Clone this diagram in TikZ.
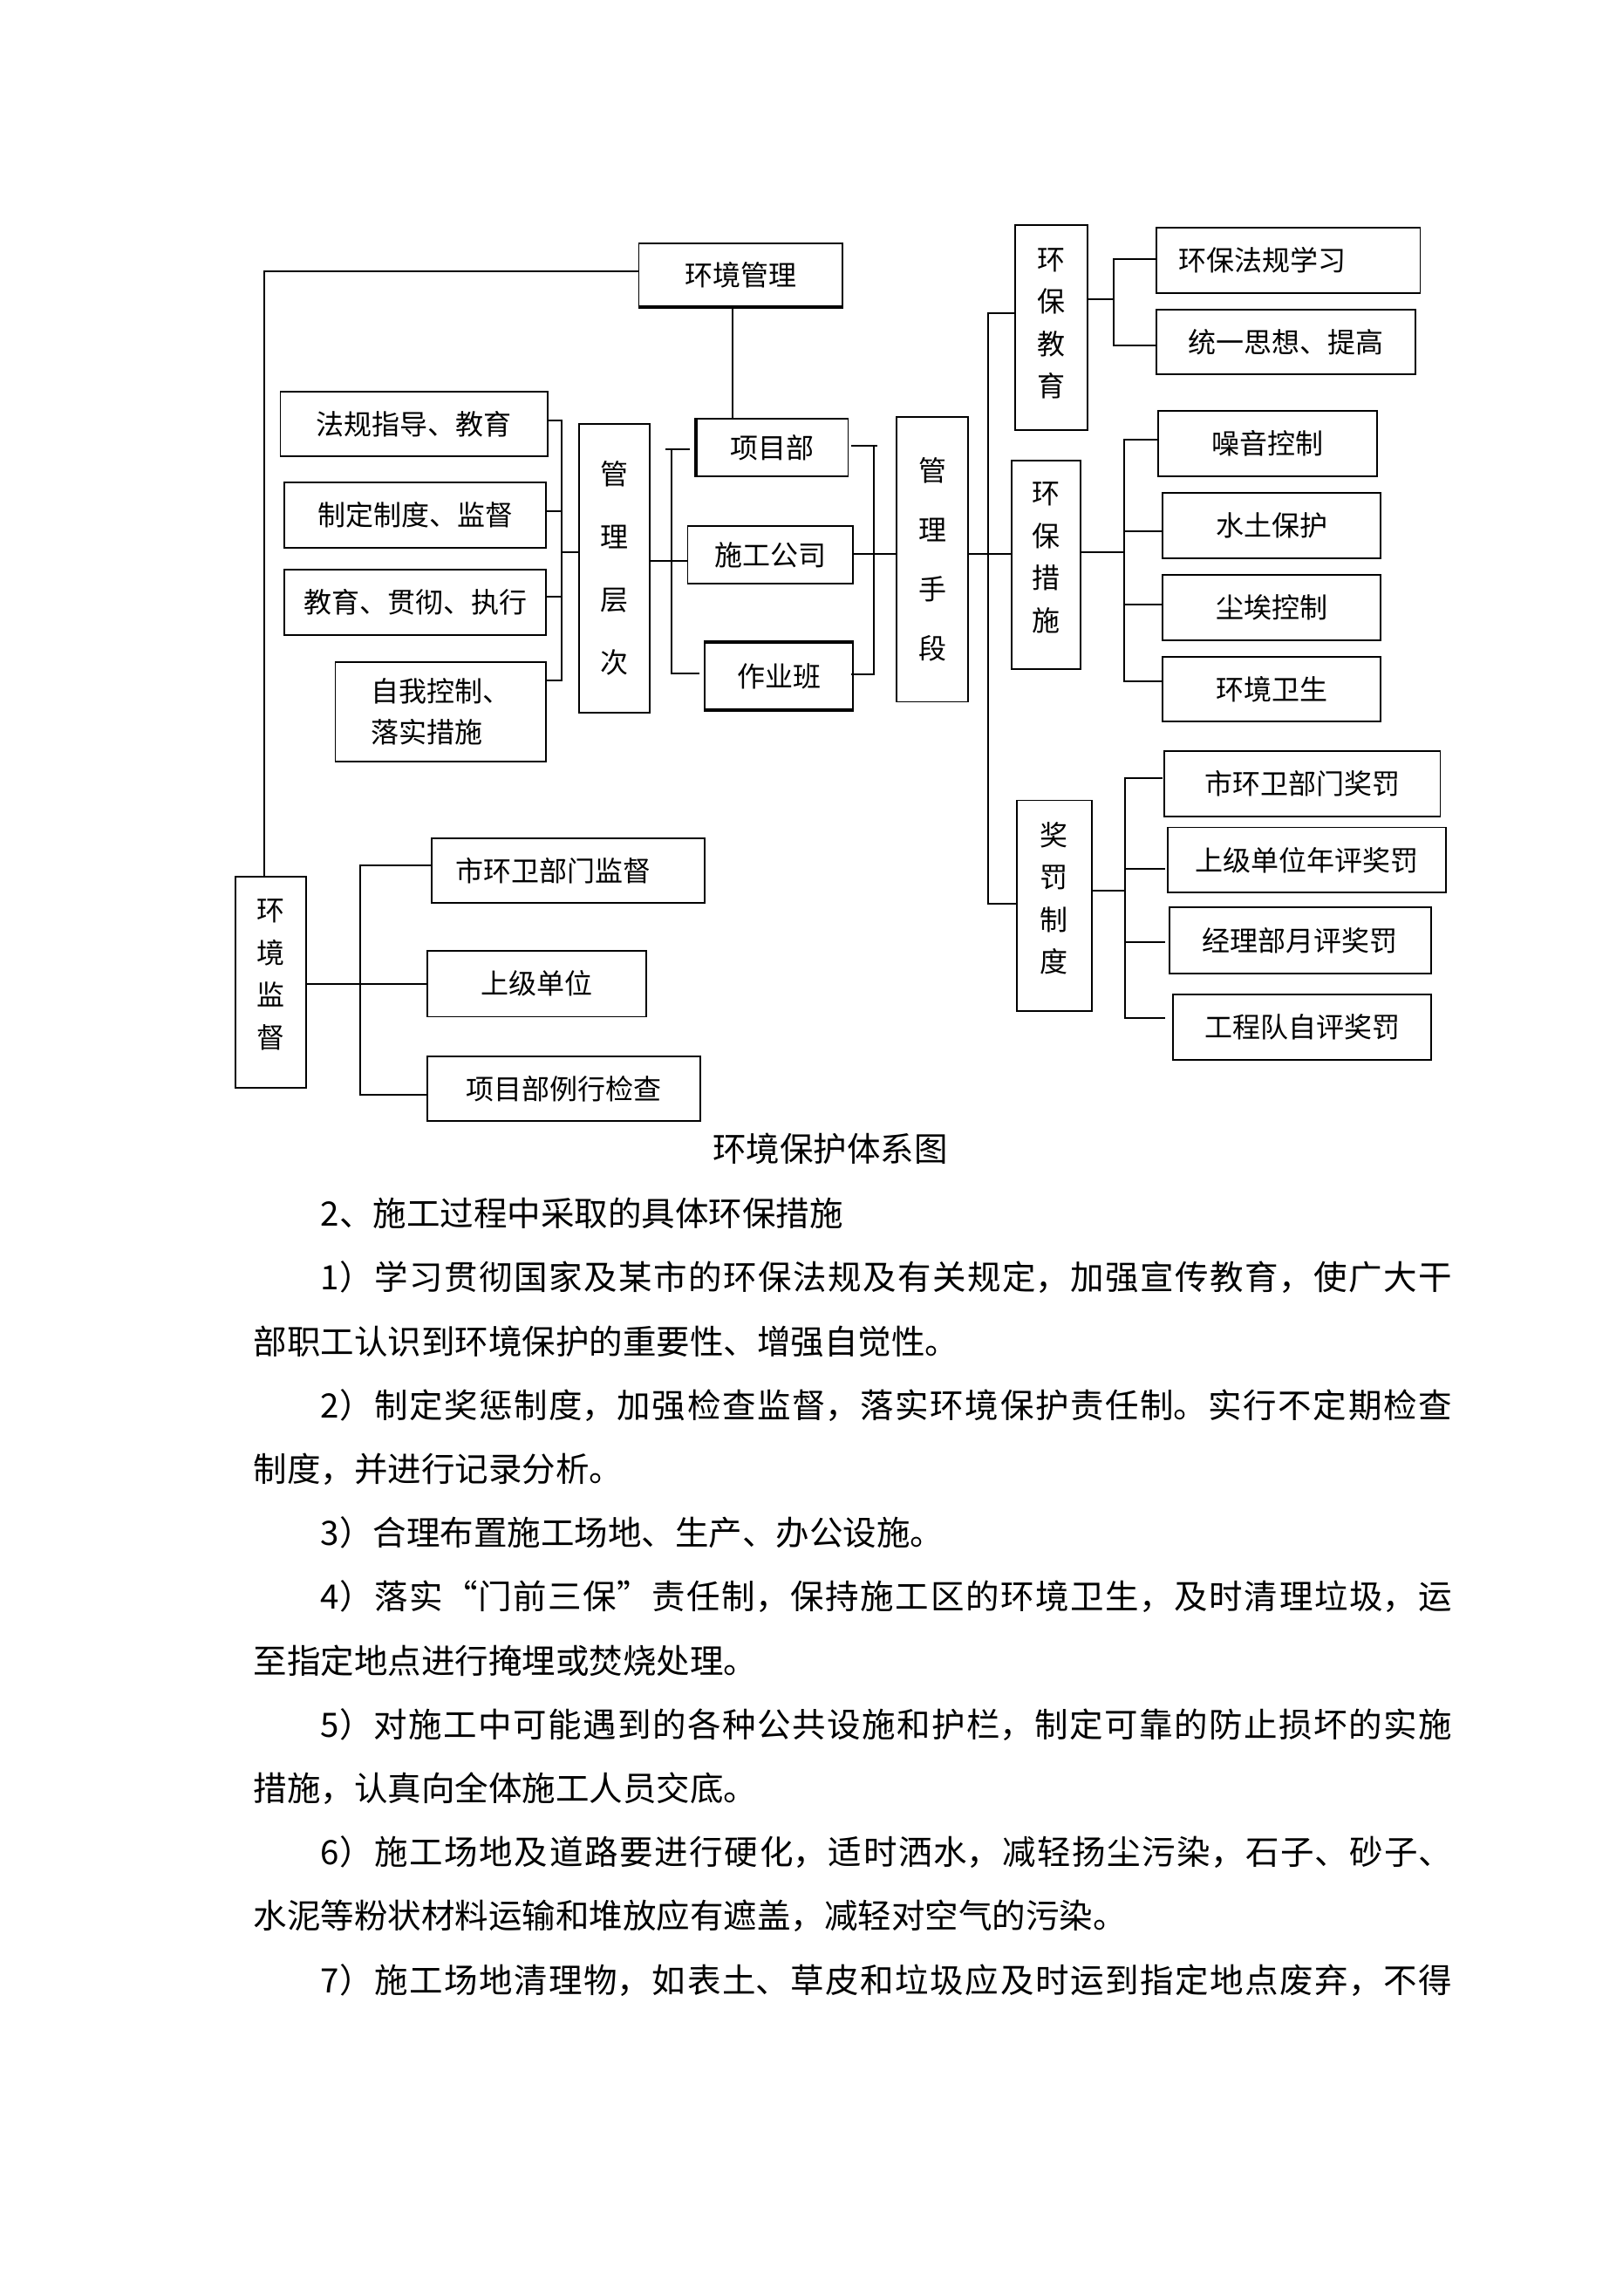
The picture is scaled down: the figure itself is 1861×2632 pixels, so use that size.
\documentclass[tikz,border=0pt]{standalone}
\usepackage{fontspec}
\setmainfont{Noto Sans CJK SC}
\XeTeXlinebreaklocale "zh"
\XeTeXlinebreakskip=0pt plus 1pt
\newcommand\lblfont{\fontsize{9.6pt}{14.1pt}\selectfont}
\newcommand\vfontA{\fontsize{9.6pt}{21.66pt}\selectfont}
\newcommand\vfontB{\fontsize{9.6pt}{20.46pt}\selectfont}
\newcommand\vfontC{\fontsize{9.6pt}{14.55pt}\selectfont}
\newcommand\bodyfont{\fontsize{11.55pt}{21.96pt}\selectfont}
\tikzset{
  box/.style={draw, line width=0.55pt, inner sep=0pt, font=\lblfont, align=center},
  conn/.style={line width=0.6pt},
  heavyedge/.style={line width=1.3pt},
  bodyline/.style={anchor=base west, inner sep=0pt, text width=412.2pt, align=justify, font=\bodyfont},
}
\newcommand\bx[7][]{\node[box,minimum width={(#5-#3)*0.3pt},minimum height={(#6-#4)*0.3pt},#1] (#2) at ({(#3+#5)/2},{(#4+#6)/2}) {#7};}
\newcommand\bl[3]{\node[bodyline] (#1) at (290,#2) {#3};}
\newcommand\fullend{\parfillskip=0pt\par}
\begin{document}
\begin{tikzpicture}[x=0.3pt,y=-0.3pt]
\useasboundingbox (0,0) rectangle (1861,2632);
% ---- boxes ----
\bx{env}{732.5}{279.4}{966}{351}{环境管理}
\bx{xmb}{798.7}{480.3}{972.5}{546}{项目部}
\bx{sggs}{788.5}{602.8}{978.2}{669.4}{施工公司}
\bx{zyb}{808}{736.7}{978.2}{813}{作业班}
\bx[font=\vfontA]{glcc}{663.8}{486}{745.3}{816.8}{管\\理\\层\\次}
\bx{l1}{321.5}{448.6}{628.3}{523.2}{法规指导、教育}
\bx{l2}{326}{553}{626.3}{627.7}{制定制度、监督}
\bx{l3}{326}{653.3}{626.3}{728}{教育、贯彻、执行}
\bx[align=left]{l4}{384.5}{759.3}{626.3}{872.7}{自我控制、\\落实措施}
\bx[font=\vfontB]{glsd}{1028.4}{478}{1109.7}{804.5}{管\\理\\手\\段}
\bx[font=\vfontC,text depth=3.5pt]{hbjy}{1163.8}{258.4}{1247}{492.6}{环\\保\\教\\育}
\bx[font=\vfontC,text depth=5.8pt]{hbcs}{1160}{527.8}{1238.8}{767.3}{环\\保\\措\\施}
\bx[font=\vfontC,text depth=5.8pt]{jfzd}{1165.8}{917.5}{1252}{1159}{奖\\罚\\制\\度}
\bx{r1}{1326}{261}{1628.4}{335.7}{\kern-18pt 环保法规学习}
\bx{r2}{1326}{354.8}{1622.6}{429.4}{统一思想、提高}
\bx{r3}{1328}{471}{1578.6}{546}{噪音控制}
\bx{r4}{1333}{565.3}{1583}{640.3}{水土保护}
\bx{r5}{1333}{659}{1583}{733.7}{尘埃控制}
\bx{r6}{1333}{752.8}{1583}{827.4}{环境卫生}
\bx{r7}{1335}{861.2}{1651.5}{935.9}{市环卫部门奖罚}
\bx{r8}{1338.8}{948.5}{1658}{1023}{上级单位年评奖罚}
\bx{r9}{1340.7}{1040.3}{1640.8}{1115.7}{经理部月评奖罚}
\bx{r10}{1345.3}{1139.8}{1640.8}{1215.2}{工程队自评奖罚}
\bx[font=\vfontC,text depth=5.8pt]{hjjd}{270}{1004.7}{351.4}{1246.6}{环\\境\\监\\督}
\bx{s1}{495}{960.7}{807.6}{1035.3}{\kern-10pt 市环卫部门监督}
\bx{s2}{490.3}{1089.7}{740.6}{1165.5}{上级单位}
\bx{s3}{490.3}{1210.6}{803.4}{1285.3}{项目部例行检查}
% heavy borders
\draw[heavyedge] (env.south west) -- (env.south east);
\draw[heavyedge] (xmb.north west) -- (xmb.south west);
\draw[heavyedge] (zyb.north west) -- (zyb.north east);
\draw[heavyedge] (zyb.south west) -- (zyb.south east);
% ---- connectors ----
\coordinate (c1) at (302.5,311);
\draw[conn] (env.west |- c1) -- (c1) -- (c1 |- hjjd.north);
\coordinate (c2) at (840.4,400);
\draw[conn] (c2 |- env.south) -- (c2 |- xmb.north);
% left bracket
\coordinate (j1) at (644.3,482);
\coordinate (j2) at (644.3,586.3);
\coordinate (j3) at (644.3,684);
\coordinate (j4) at (644.3,779.6);
\coordinate (jm) at (644.3,633.4);
\draw[conn] (l1.east |- j1) -- (j1) -- (j4) -- (l4.east |- j4);
\draw[conn] (l2.east |- j2) -- (j2);
\draw[conn] (l3.east |- j3) -- (j3);
\draw[conn] (jm) -- (glcc.west |- jm);
% between glcc and middle boxes
\coordinate (k1a) at (763.3,515);
\coordinate (k1) at (769.9,515);
\coordinate (k1b) at (791,515);
\coordinate (k2) at (769.9,771.5);
\coordinate (k2b) at (802.4,771.5);
\coordinate (km) at (769.9,642.6);
\draw[conn] (k1a) -- (k1b);
\draw[conn] (k1) -- (k2) -- (k2b);
\draw[conn] (glcc.east |- km) -- (sggs.west |- km);
% between middle boxes and glsd
\coordinate (m1a) at (975.5,511);
\coordinate (m1) at (1001.5,511);
\coordinate (m1b) at (1006,511);
\coordinate (m2) at (1001.5,773);
\coordinate (m2a) at (975.5,773);
\coordinate (mm) at (1001.5,635.3);
\draw[conn] (m1a) -- (m1b);
\draw[conn] (m1) -- (m2) -- (m2a);
\draw[conn] (sggs.east |- mm) -- (glsd.west |- mm);
% trunk right of glsd
\coordinate (t1) at (1132.8,358.6);
\coordinate (t2) at (1132.8,1036);
\coordinate (tm) at (1132.8,635.3);
\draw[conn] (hbjy.west |- t1) -- (t1) -- (t2) -- (jfzd.west |- t2);
\draw[conn] (glsd.east |- tm) -- (hbcs.west |- tm);
% hbjy
\coordinate (e1) at (1276.5,296.6);
\coordinate (e2) at (1276.5,396);
\coordinate (em) at (1276.5,342.6);
\draw[conn] (r1.west |- e1) -- (e1) -- (e2) -- (r2.west |- e2);
\draw[conn] (hbjy.east |- em) -- (em);
% hbcs
\coordinate (f1) at (1288.5,504);
\coordinate (f2) at (1288.5,608.5);
\coordinate (f3) at (1288.5,692.7);
\coordinate (f4) at (1288.5,780.5);
\coordinate (fm) at (1288.5,633.4);
\draw[conn] (r3.west |- f1) -- (f1) -- (f4) -- (r6.west |- f4);
\draw[conn] (f2) -- (r4.west |- f2);
\draw[conn] (f3) -- (r5.west |- f3);
\draw[conn] (hbcs.east |- fm) -- (fm);
% jfzd
\coordinate (g1) at (1290.2,891.8);
\coordinate (g2) at (1290.2,996.3);
\coordinate (g3) at (1290.2,1080);
\coordinate (g4) at (1290.2,1167.4);
\coordinate (gm) at (1290.2,1021.2);
\coordinate (g1e) at (1333,891.8);
\coordinate (g2e) at (1336,996.3);
\coordinate (g3e) at (1336,1080);
\coordinate (g4e) at (1336,1167.4);
\draw[conn] (g1e) -- (g1) -- (g4) -- (g4e);
\draw[conn] (g2) -- (g2e);
\draw[conn] (g3) -- (g3e);
\draw[conn] (jfzd.east |- gm) -- (gm);
% hjjd
\coordinate (h1) at (413.4,992);
\coordinate (h2) at (413.4,1254.6);
\coordinate (hm) at (413.4,1128);
\draw[conn] (s1.west |- h1) -- (h1) -- (h2) -- (s3.west |- h2);
\draw[conn] (hjjd.east |- hm) -- (s2.west |- hm);
% ---- caption and body ----
\node[anchor=base, inner sep=0pt, font=\bodyfont] (cap) at (952,1331.6) {环境保护体系图};
\bl{b0}{1405.6}{\hspace*{2em}2、施工过程中采取的具体环保措施}
\bl{b1}{1478.8}{\hspace*{2em}1）学习贯彻国家及某市的环保法规及有关规定，加强宣传教育，使广大干\fullend}
\bl{b2}{1552}{部职工认识到环境保护的重要性、增强自觉性。}
\bl{b3}{1625.2}{\hspace*{2em}2）制定奖惩制度，加强检查监督，落实环境保护责任制。实行不定期检查\fullend}
\bl{b4}{1698.4}{制度，并进行记录分析。}
\bl{b5}{1771.6}{\hspace*{2em}3）合理布置施工场地、生产、办公设施。}
\bl{b6}{1844.8}{\hspace*{2em}4）落实“门前三保”责任制，保持施工区的环境卫生，及时清理垃圾，运\fullend}
\bl{b7}{1918}{至指定地点进行掩埋或焚烧处理。}
\bl{b8}{1991.2}{\hspace*{2em}5）对施工中可能遇到的各种公共设施和护栏，制定可靠的防止损坏的实施\fullend}
\bl{b9}{2064.4}{措施，认真向全体施工人员交底。}
\bl{b10}{2137.6}{\hspace*{2em}6）施工场地及道路要进行硬化，适时洒水，减轻扬尘污染，石子、砂子、\fullend}
\bl{b11}{2210.8}{水泥等粉状材料运输和堆放应有遮盖，减轻对空气的污染。}
\bl{b12}{2284}{\hspace*{2em}7）施工场地清理物，如表土、草皮和垃圾应及时运到指定地点废弃，不得\fullend}
\end{tikzpicture}
\end{document}
